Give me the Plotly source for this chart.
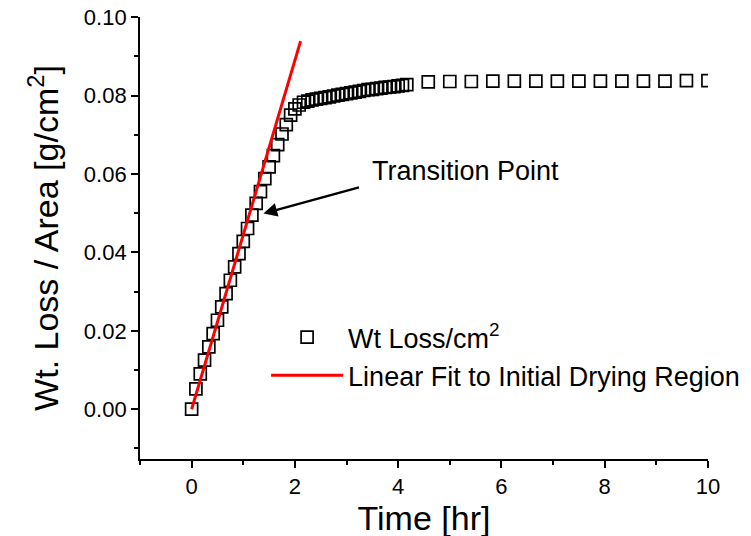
import plotly.graph_objects as go

# ---- data ----
time_hr = [0.000, 0.083, 0.167, 0.250, 0.333, 0.417, 0.500, 0.583, 0.667, 0.750,
           0.833, 0.917, 1.000, 1.083, 1.167, 1.250, 1.333, 1.417, 1.500, 1.583,
           1.667, 1.750, 1.833, 1.917, 2.000, 2.083, 2.167, 2.250, 2.333, 2.417,
           2.500, 2.583, 2.667, 2.750, 2.833, 2.917, 3.000, 3.083, 3.167, 3.250,
           3.333, 3.417, 3.500, 3.583, 3.667, 3.750, 3.833, 3.917, 4.000, 4.083,
           4.167,
           4.583, 5.000, 5.417, 5.833, 6.250, 6.667, 7.083, 7.500, 7.917, 8.333,
           8.750, 9.167, 9.583, 10.000]
wt_loss = [0.0000, 0.0052, 0.0090, 0.0125, 0.0159, 0.0193, 0.0227, 0.0261, 0.0295, 0.0329,
           0.0363, 0.0397, 0.0428, 0.0461, 0.0495, 0.0525, 0.0555, 0.0588, 0.0618, 0.0647,
           0.0675, 0.0702, 0.0726, 0.0750, 0.0766, 0.0776, 0.0783, 0.0786, 0.0789, 0.0791,
           0.0793, 0.0795, 0.0797, 0.0799, 0.0801, 0.0803, 0.0805, 0.0807, 0.0809, 0.0811,
           0.0813, 0.0815, 0.0816, 0.0818, 0.0819, 0.0821, 0.0822, 0.0823, 0.0825, 0.0826,
           0.0828,
           0.0835, 0.0836, 0.0836, 0.0837, 0.0837, 0.0837, 0.0837, 0.0837, 0.0837, 0.0837,
           0.0837, 0.0837, 0.0838, 0.0838]

fit_x = [0.0, 2.11]
fit_y = [0.0, 0.0939]

x_tick_vals = [0, 2, 4, 6, 8, 10]
y_tick_vals = [0.00, 0.02, 0.04, 0.06, 0.08, 0.10]

series_name = "Wt Loss/cm<sup>2</sup>"
fit_name = "Linear Fit to Initial Drying Region"
note_text = "Transition Point"

# annotation positions (data coords)
arrow_head = (1.39, 0.0499)
arrow_tail = (3.27, 0.0567)
note_pos = (3.45, 0.0607)

FONT = "Arial, Liberation Sans, sans-serif"

fig = go.Figure()
fig.add_trace(go.Scatter(
    x=time_hr, y=wt_loss, mode="markers", name=series_name,
    marker=dict(symbol="square-open", size=12, color="black",
                line=dict(width=1.7, color="black")),
))
fig.add_trace(go.Scatter(
    x=fit_x, y=fit_y, mode="lines", name=fit_name,
    line=dict(color="#ff0000", width=3),
))

fig.add_annotation(x=arrow_head[0], y=arrow_head[1], ax=arrow_tail[0], ay=arrow_tail[1],
                   xref="x", yref="y", axref="x", ayref="y", text="",
                   showarrow=True, arrowhead=2, arrowsize=1.1, arrowwidth=2.5,
                   arrowcolor="black")
fig.add_annotation(x=note_pos[0], y=note_pos[1], xref="x", yref="y", text=note_text,
                   showarrow=False, xanchor="left", yanchor="middle",
                   font=dict(family=FONT, size=27, color="black"))

axis_common = dict(
    showline=True, linewidth=1.8, linecolor="black", mirror=False,
    showgrid=False, zeroline=False, automargin=False,
    ticks="outside", ticklen=7, tickwidth=1.8, tickcolor="black",
    ticklabeloverflow="allow",
    tickfont=dict(family=FONT, size=22, color="black"),
)

fig.update_xaxes(
    range=[-1, 10.0005], tickvals=x_tick_vals,
    minor=dict(dtick=1, tick0=0, ticks="outside", ticklen=4, tickwidth=1.5,
               tickcolor="black", showgrid=False),
    title=dict(text="Time [hr]", font=dict(family=FONT, size=34, color="black"),
               standoff=5),
    **axis_common,
)
fig.update_yaxes(
    range=[-0.0127, 0.10005], tickvals=y_tick_vals, tickformat=".2f",
    minor=dict(dtick=0.01, tick0=0, ticks="outside", ticklen=4, tickwidth=1.5,
               tickcolor="black", showgrid=False),
    title=dict(text="Wt. Loss / Area [g/cm<sup>2</sup>]",
               font=dict(family=FONT, size=34, color="black"), standoff=15),
    **axis_common,
)

fig.update_layout(
    width=751, height=536,
    margin=dict(l=132, r=51, t=9, b=85, autoexpand=False),
    plot_bgcolor="white", paper_bgcolor="white",
    font=dict(family=FONT, color="black"),
    showlegend=True,
    legend=dict(x=0.222, y=0.33, xanchor="left", yanchor="top",
                bgcolor="rgba(0,0,0,0)", borderwidth=0,
                font=dict(family=FONT, size=27, color="black"),
                itemwidth=72, tracegroupgap=0),
)

fig.write_html("out.html")
